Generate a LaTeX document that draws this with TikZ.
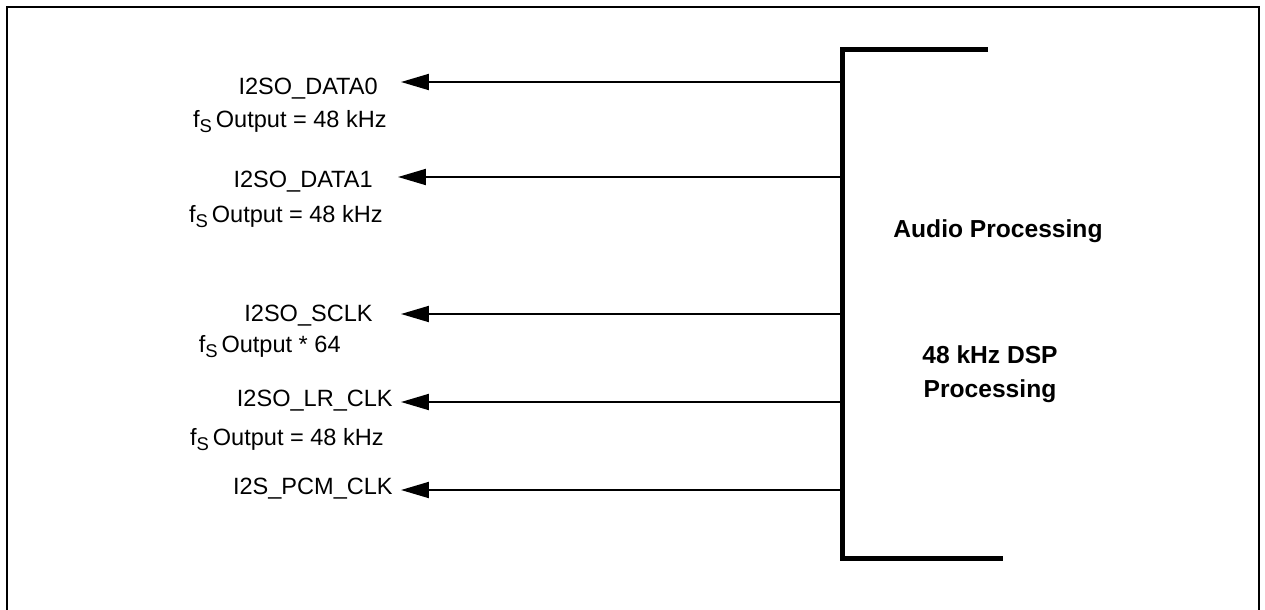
\documentclass[tikz,border=0pt]{standalone}
\usepackage{fontspec}
\setmainfont{Liberation Sans}
\usetikzlibrary{arrows.meta}

% sampling-rate subscript
\newcommand{\fsub}{f\raisebox{-0.45ex}{\fontsize{10.5}{10.5}\selectfont S}\,}

\begin{document}
\begin{tikzpicture}[
				x=0.02cm, y=-0.02cm,
				frameline/.style={
					line width=0.04cm,
					line cap=rect
				},
				busline/.style={
					line width=0.1cm,
					line join=miter
				},
				sigarrow/.style={
					-{Triangle[length=0.56cm,width=0.32cm]},
					line width=0.04cm
				},
				pinlabel/.style={
					anchor=base east,
					inner sep=0pt,
					font=\fontsize{13.4}{16}\selectfont
				},
				blocktext/.style={
					align=center,
					inner sep=0pt,
					font=\fontsize{14}{19.5}\selectfont\bfseries
				}
				]
				
				\useasboundingbox (0,0) rectangle (1265,609);
				
				% outer frame, open at the bottom
				\draw[frameline] (7,609) -- (7,7) -- (1259,7) -- (1259,609);
				
				% processing block edge
				\draw[busline] (988,49) -- (842,49) -- (842,558) -- (1003,558);
				
				\node[blocktext, anchor=base] (audio) at (998,237) {Audio Processing};
				\node[blocktext] (dsp) at (990,374) {48 kHz DSP\\Processing};
				
				% bus taps and arrow tips
				\coordinate (bus0) at (842,82);
				\coordinate (bus1) at (842,177);
				\coordinate (bus2) at (842,314);
				\coordinate (bus3) at (842,402);
				\coordinate (bus4) at (842,490);
				
				\coordinate (tip0) at (401,82);
				\coordinate (tip1) at (398,177);
				\coordinate (tip2) at (401,314);
				\coordinate (tip3) at (401,402);
				\coordinate (tip4) at (401,490);
				
				% output pins
				\node[pinlabel] (data0) at (378,94) {I2SO\_DATA0};
				\node[pinlabel] (rate0) at (387,127) {\fsub Output = 48 kHz};
				
				\node[pinlabel] (data1) at (373,187) {I2SO\_DATA1};
				\node[pinlabel] (rate1) at (383,222) {\fsub Output = 48 kHz};
				
				\node[pinlabel] (sclk) at (373,321) {I2SO\_SCLK};
				\node[pinlabel] (rate2) at (341,352) {\fsub Output * 64};
				
				\node[pinlabel] (lrclk) at (393,406) {I2SO\_LR\_CLK};
				\node[pinlabel] (rate3) at (384,445) {\fsub Output = 48 kHz};
				
				\node[pinlabel] (pcmclk) at (393,494) {I2S\_PCM\_CLK};
				
				\draw[sigarrow] (bus0) -- (tip0);
				\draw[sigarrow] (bus1) -- (tip1);
				\draw[sigarrow] (bus2) -- (tip2);
				\draw[sigarrow] (bus3) -- (tip3);
				\draw[sigarrow] (bus4) -- (tip4);
				
			\end{tikzpicture}
\end{document}
